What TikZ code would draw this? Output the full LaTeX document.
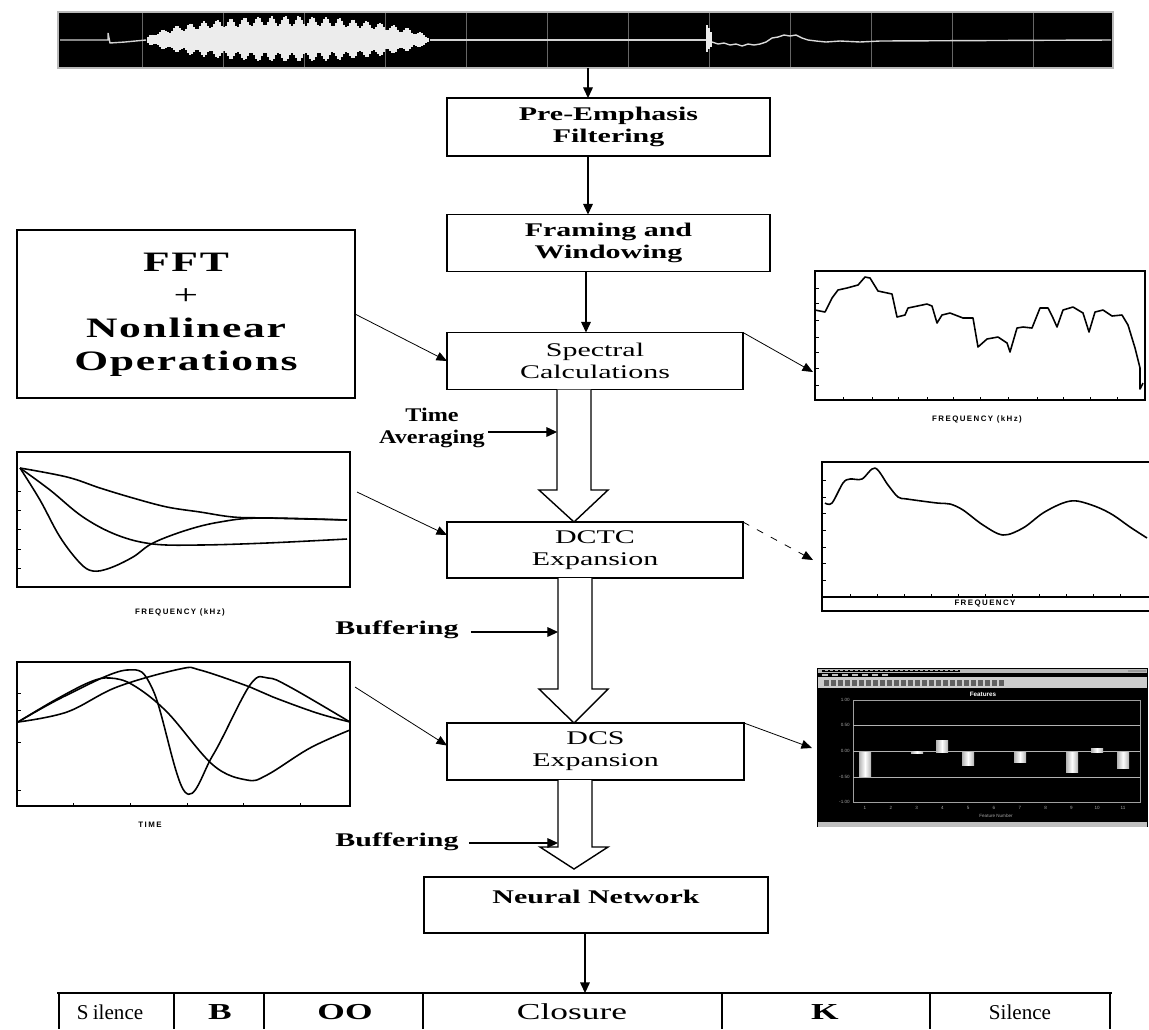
\documentclass[tikz,border=0pt]{standalone}
\usepackage{fontspec}
\setmainfont{Liberation Serif}
\newfontfamily\wideserif[FakeStretch=1.55]{Liberation Serif}
\newfontfamily\fftserif[FakeStretch=1.55,LetterSpace=6]{Liberation Serif}
\newfontfamily\midserif[FakeStretch=1.25]{Liberation Serif}
\newfontfamily\tinysans[LetterSpace=18]{Liberation Sans}
\newfontfamily\plainsans{Liberation Sans}
\usetikzlibrary{arrows.meta,calc}
\begin{document}
\begin{tikzpicture}[x=0.02cm,y=-0.02cm,
  wh/.style 2 args={minimum width={#1*0.02cm},minimum height={#2*0.02cm}},
  box/.style={draw,line width=0.7pt,inner sep=0pt,outer sep=0pt,align=center,font=\wideserif\fontsize{11}{12.5}\selectfont},
  bbox/.style={box,font=\wideserif\bfseries\fontsize{11}{12.5}\selectfont},
  arr/.style={line width=0.6pt,-{Triangle[length=6pt,width=5.5pt]}},
  thinarr/.style={line width=0.45pt,-{Triangle[length=6pt,width=5pt]}},
  hollow/.style={draw,line width=0.8pt,fill=white,line join=miter},
  plotframe/.style={draw,line width=0.8pt,inner sep=0pt,outer sep=0pt},
  curve/.style={line width=0.9pt,line join=round},
  tick/.style={line width=0.4pt},
  lbl/.style={font=\wideserif\bfseries\fontsize{11}{12.5}\selectfont,align=center,inner sep=0pt},
  axlbl/.style={font=\tinysans\bfseries\fontsize{4.5}{5}\selectfont,inner sep=0pt},
  scr/.style={font=\plainsans\fontsize{2.6}{3}\selectfont,inner sep=0pt,text=gray!70},
  cell/.style={inner sep=0pt,font=\wideserif\fontsize{13}{14}\selectfont},
]
\useasboundingbox (0,0) rectangle (1149,1029);

% ---------------- waveform ----------------
\node[fill=black,draw=gray!55,line width=0.6pt,inner sep=0pt,outer sep=0pt,wh={1055}{56}] (wave) at (585.5,40) {};
\foreach \g in {142,223,...,1034} \draw[gray!80!black,line width=0.3pt] (\g,13) -- (\g,67);
\draw[white!65!gray,line width=0.8pt] (60,40) -- (100,40) -- (108,40) -- (108,33) -- (110,43) -- (125,42) -- (146,40);
\draw[white!65!gray,line width=0.8pt] (430,40) -- (708,40);
\foreach \i in {1,...,141} {
  \pgfmathsetmacro\aa{24*sqrt(abs(sin(1.2676*\i)))*(0.8+0.2*sin(53*\i))}
  \pgfmathsetmacro\xa{146+2*\i}
  \draw[white!85!gray,line width=0.6pt] (\xa,40-\aa) -- (\xa,40+0.9*\aa);
}
\draw[white!85!gray,line width=0.7pt] (707,25) -- (707,52) (709,28) -- (709,49) (711,32) -- (711,47);
\draw[white!70!gray,line width=0.8pt] (712,42) -- (718,44) -- (724,43) -- (730,45) -- (736,44) -- (742,46) -- (748,44) -- (754,45) -- (760,44) -- (766,42) -- (772,38) -- (778,37) -- (784,35) -- (790,36) -- (796,35) -- (802,38) -- (808,40) -- (816,41) -- (826,42) -- (840,41) -- (860,42) -- (880,41) -- (1111,40);

% ---------------- main boxes ----------------
\node[bbox,wh={323}{58}] (pre) at (608.5,127) {Pre-Emphasis\\Filtering};
\node[bbox,wh={323}{57}] (frame) at (608.5,243) {Framing and\\Windowing};
\node[box,wh={296}{57}] (spec) at (595,361) {Spectral\\Calculations};
\node[box,wh={296}{56}] (dctc) at (595,550) {DCTC\\Expansion};
\node[box,wh={297}{57}] (dcs) at (595.5,751.5) {DCS\\Expansion};
\node[bbox,wh={344}{56}] (nn) at (596,905) {\raisebox{9pt}{Neural Network}};
\node[draw,line width=0.8pt,inner sep=0pt,outer sep=0pt,wh={338}{168},
      font=\fftserif\bfseries\fontsize{16}{18.8}\selectfont] (fft) at (186,314)
      {\raisebox{11pt}{\begin{tabular}{@{}c@{}}FFT\\{\mdseries +}\\Nonlinear\\Operations\end{tabular}}};

% straight arrows
\draw[arr] (588,0 |- wave.south) -- (588,0 |- pre.north);
\draw[arr] (588,0 |- pre.south) -- (588,0 |- frame.north);
\draw[arr] (586,0 |- frame.south) -- (586,0 |- spec.north);
\draw[thinarr] (fft.east) -- (spec.west);

% hollow arrows
\draw[hollow] (557,0 |- spec.south) -- (557,490) -- (539,490) -- (574,0 |- dctc.north) -- (608,490) -- (591,490) -- (591,0 |- spec.south);
\draw[hollow] (558,0 |- dctc.south) -- (558,689) -- (539,689) -- (574,0 |- dcs.north) -- (608,689) -- (592,689) -- (592,0 |- dctc.south);
\draw[hollow] (558,0 |- dcs.south) -- (558,847) -- (540,847) -- ($(574,0 |- nn.north)+(0,-8)$) -- (608,847) -- (592,847) -- (592,0 |- dcs.south);

% side labels
\node[lbl,font=\midserif\bfseries\fontsize{11}{12.5}\selectfont] (tavg) at (432,428) {Time\\Averaging};
\coordinate (s1) at (557,432);
\draw[arr] ($(tavg.east)+(3,4)$) -- (s1);
\node[lbl] (buf1) at (397,630) {Buffering};
\coordinate (s2) at (558,632);
\draw[arr] ($(buf1.east)+(12,2)$) -- (s2);
\node[lbl] (buf2) at (397,842) {Buffering};
\coordinate (s3) at (558,843);
\draw[arr] ($(buf2.east)+(10,1)$) -- (s3);

% ---------------- spectrum plot (right, top) ----------------
\node[plotframe,wh={330}{129}] (specplot) at (980,335.5) {};
\foreach \t in {288,303,320,337,352,368,385} \draw[tick] (815,\t) -- (819,\t);
\foreach \t in {843,872,898,927,953,980,1008,1037,1063,1090,1117} \draw[tick] (\t,400) -- (\t,397);
\draw[curve] (815,310) -- (825,312) -- (832,298) -- (838,290) -- (847,288) -- (858,285) -- (865,277) -- (870,278) -- (878,291) -- (892,294) -- (897,317) -- (905,315) -- (908,308) -- (927,304) -- (932,306) -- (937,323) -- (942,315) -- (950,313) -- (963,318) -- (973,318) -- (978,347) -- (987,339) -- (998,337) -- (1007,343) -- (1010,352) -- (1017,328) -- (1023,327) -- (1032,328) -- (1040,308) -- (1048,308) -- (1053,318) -- (1057,327) -- (1063,310) -- (1073,307) -- (1083,313) -- (1089,332) -- (1095,312) -- (1103,310) -- (1112,316) -- (1122,315) -- (1128,325) -- (1135,348) -- (1140,368) -- (1140,389) -- (1143,383);
\node[axlbl] (speclbl) at (977,419) {FREQUENCY (kHz)};
\coordinate (specin) at (813,372);
\draw[thinarr] (spec.north east) -- (specin);

% ---------------- DCTC basis plot (left) ----------------
\node[plotframe,wh={333}{135}] (dctcL) at (183.5,519.5) {};
\foreach \t in {491,510,529,549,568} \draw[tick] (17,\t) -- (21,\t);
\draw[curve] plot[smooth,tension=0.6] coordinates {(20,468) (67,477) (100,488) (133,498) (167,507) (200,512) (233,517) (267,518) (347,520)};
\draw[curve] plot[smooth,tension=0.6] coordinates {(20,468) (50,490) (83,517) (117,535) (153,544) (200,545) (267,543) (347,539)};
\draw[curve] plot[smooth,tension=0.6] coordinates {(20,468) (40,500) (60,537) (80,563) (93,571) (110,568) (133,557) (153,543) (187,530) (220,522) (260,518) (347,520)};
\node[axlbl] (dctcLlbl) at (180,612) {FREQUENCY (kHz)};
\draw[thinarr] ($(dctcL.north east)+(7,40)$) -- ($(dctc.west)+(0,-15)$);

% ---------------- DCTC smoothed spectrum (right) ----------------
\coordinate (dctcRtl) at (1149,462);
\draw[line width=0.8pt] (dctcRtl) -- (822,462) -- (822,611) -- (1149,611);
\draw[line width=0.6pt] (822,597) -- (1149,597);
\foreach \t in {480,497,513,530,547,563,580} \draw[tick] (822,\t) -- (826,\t);
\foreach \t in {850,877,904,931,958,985,1012,1039,1066,1093,1120} \draw[tick] (\t,597) -- (\t,594);
\draw[curve] plot[smooth,tension=0.55] coordinates {(825,503) (832,503) (843,483) (850,479) (862,479) (875,468) (888,485) (898,497) (907,499) (937,503) (950,504) (963,510) (983,525) (1003,535) (1023,528) (1043,513) (1063,503) (1077,501) (1097,507) (1113,515) (1130,527) (1147,538)};
\node[axlbl] (dctcRlbl) at (985,604) {FREQUENCY};
\coordinate (dctcRin) at (813,560);
\draw[thinarr,dashed,dash pattern=on 4pt off 5pt] (dctc.north east) -- (dctcRin);

% ---------------- DCS basis plot (left) ----------------
\node[plotframe,wh={333}{144}] (dcsL) at (183.5,734) {};
\foreach \t in {693,710,742,790} \draw[tick] (17,\t) -- (21,\t);
\foreach \t in {73,130,187,243,300} \draw[tick] (\t,806) -- (\t,803);
\draw[curve] plot[smooth,tension=0.6] coordinates {(18,722) (67,712) (117,687) (180,669) (200,670) (250,687) (273,697) (317,713) (350,722)};
\draw[curve] plot[smooth,tension=0.6] coordinates {(18,722) (67,695) (127,670) (153,690) (185,792) (213,755) (250,685) (268,678) (290,687) (350,722)};
\draw[curve] plot[smooth,tension=0.6] coordinates {(18,722) (55,700) (90,682) (110,678) (133,685) (167,712) (213,765) (247,780) (267,775) (310,748) (350,730)};
\node[axlbl] (dcsLlbl) at (150,825) {TIME};
\draw[thinarr] ($(dcsL.north east)+(5,25)$) -- ($(dcs.west)+(0,-6)$);

% ---------------- DCS feature screenshot (right) ----------------
\node[fill=black,inner sep=0pt,outer sep=0pt,wh={331}{159}] (dcsR) at (982.5,747.5) {};
\fill[gray!55] (818,669) rectangle (1147,672.5);
\fill[black] (822,669.6) rectangle (960,671.9);
\foreach \b in {825,830,...,955} \fill[gray!60] (\b,670.2) rectangle ++(3,1.2);
\fill[gray!80] (1128,669.5) rectangle (1146,672);
\foreach \b in {822,832,...,890} \fill[gray!50] (\b,674) rectangle ++(6,1.5);
\fill[gray!40] (818,677) rectangle (1147,688);
\foreach \b in {824,831,...,1000} \fill[gray!75!black] (\b,679.5) rectangle ++(4.5,6);
\draw[gray!75,line width=0.5pt] (853,700) rectangle (1140,802);
\foreach \t in {725,751,777} \draw[gray!60,line width=0.35pt] (853,\t) -- (1140,\t);
\node[scr,text=white,font=\plainsans\bfseries\fontsize{3.6}{4}\selectfont] (feat) at (983,694) {Features};
\node[scr,anchor=east] (yl1) at (850,700) {1.00};
\node[scr,anchor=east] (yl2) at (850,725) {0.50};
\node[scr,anchor=east] (yl3) at (850,751) {0.00};
\node[scr,anchor=east] (yl4) at (850,777) {-0.50};
\node[scr,anchor=east] (yl5) at (850,802) {-1.00};
\foreach \k in {1,...,11} \node[scr] (xl\k) at ({865+25.8*(\k-1)},808) {\k};
\node[scr] (xt) at (996,816) {Feature Number};
\foreach \bx/\ya/\yb in {865/752/776, 917/751/753, 942/740/752, 968/752/765, 1020/752/762, 1072/752/772, 1097/748/752, 1123/752/768}
  \shade[left color=gray!60,right color=gray!60,middle color=white] (\bx-6,\ya) rectangle (\bx+6,\yb);
\fill[gray!50] (818,822) rectangle (1147,826.5);
\coordinate (dcsRin) at (812,748);
\draw[thinarr] (dcs.north east) -- (dcsRin);

% ---------------- output table ----------------
\node[inner sep=0pt,outer sep=0pt,wh={1055}{36}] (table) at (584.5,1011) {};
\draw[line width=0.8pt] (table.north west) -- (table.north east);
\foreach \c in {59,174,264,423,722,930,1110} \draw[line width=0.8pt] (\c,993) -- (\c,1029);
\node[cell,font=\fontsize{12}{13}\selectfont] (c1) at (110,1012) {S\kern2.5pt ilence};
\node[cell,font=\wideserif\bfseries\fontsize{13}{14}\selectfont] (c2) at (220,1012) {B};
\node[cell,font=\wideserif\bfseries\fontsize{13}{14}\selectfont] (c3) at (345,1012) {OO};
\node[cell] (c4) at (572,1012) {Closure};
\node[cell,font=\wideserif\bfseries\fontsize{13}{14}\selectfont] (c5) at (825,1012) {K};
\node[cell,font=\fontsize{12}{13}\selectfont] (c6) at (1020,1012) {Silence};
\draw[arr] (585,0 |- nn.south) -- (585,0 |- table.north);
\end{tikzpicture}
\end{document}
